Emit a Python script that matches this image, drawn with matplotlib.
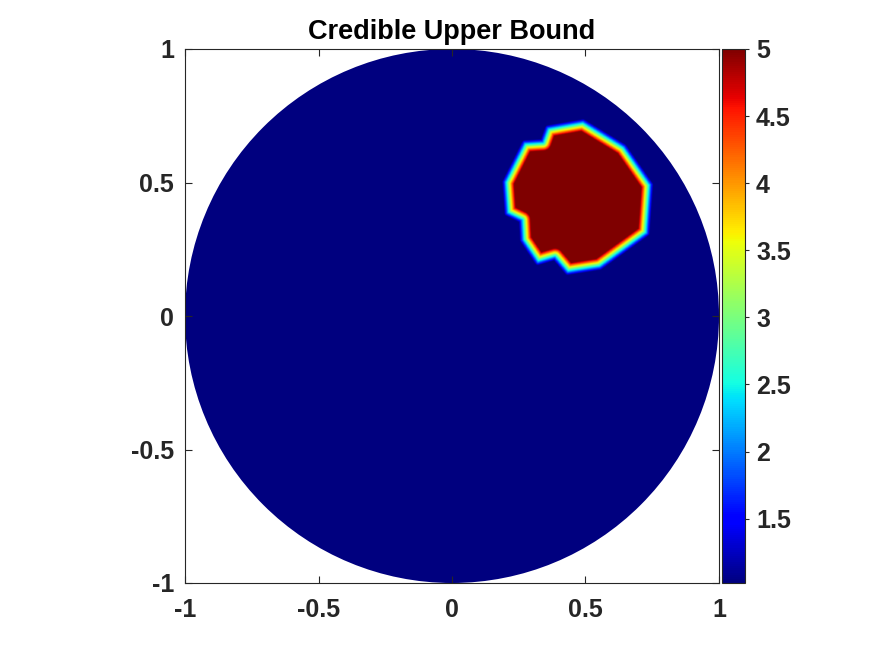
import numpy as np
import matplotlib
matplotlib.use("Agg")
import matplotlib.pyplot as plt
from matplotlib.path import Path
from matplotlib.patches import Circle

# ---- values ----
TITLE = "Credible Upper Bound"
V_LOW = 1.02      # background level (bottom of colour scale)
V_HIGH = 5.0      # level inside the inclusion
# inclusion outline (data coords), traced clockwise from the top vertex
BLOB_X = [0.491, 0.360, 0.341, 0.273, 0.200, 0.208, 0.262, 0.266, 0.322,
          0.386, 0.434, 0.554, 0.730, 0.743, 0.644]
BLOB_Y = [0.727, 0.704, 0.652, 0.648, 0.502, 0.386, 0.360, 0.285, 0.202,
          0.221, 0.165, 0.184, 0.311, 0.492, 0.634]
XTICKS = [-1, -0.5, 0, 0.5, 1]
YTICKS = [-1, -0.5, 0, 0.5, 1]
CBAR_TICKS = [1.5, 2, 2.5, 3, 3.5, 4, 4.5, 5]

plt.rcParams["font.family"] = ["Liberation Sans", "DejaVu Sans"]
plt.rcParams["font.weight"] = "bold"

N = 900
xs = np.linspace(-1, 1, N)
X, Y = np.meshgrid(xs, xs)
pts = np.column_stack([X.ravel(), Y.ravel()])

# signed distance to the outline (positive inside)
vx = np.array(BLOB_X)
vy = np.array(BLOB_Y)
bx_, by_ = np.roll(vx, -1), np.roll(vy, -1)
dist = np.full(pts.shape[0], np.inf)
for x0, y0, x1, y1 in zip(vx, vy, bx_, by_):
    dx, dy = x1 - x0, y1 - y0
    t = ((pts[:, 0] - x0) * dx + (pts[:, 1] - y0) * dy) / (dx * dx + dy * dy)
    t = np.clip(t, 0, 1)
    d = np.hypot(pts[:, 0] - (x0 + t * dx), pts[:, 1] - (y0 + t * dy))
    dist = np.minimum(dist, d)
inside = Path(np.column_stack([vx, vy])).contains_points(pts)
sd = np.where(inside, dist, -dist)
frac = np.clip((sd + 0.012) / 0.045, 0, 1)
Z = (V_LOW + (V_HIGH - V_LOW) * frac).reshape(N, N)

fig = plt.figure(figsize=(8.75, 6.56), dpi=100)
ax = fig.add_axes([185 / 875, 73 / 656, 534 / 875, 534 / 656])
im = ax.imshow(Z, extent=[-1, 1, -1, 1], origin="lower", cmap="jet",
               vmin=V_LOW, vmax=V_HIGH, interpolation="bilinear")
im.set_clip_path(Circle((0, 0), 1, transform=ax.transData))
ax.set_xlim(-1, 1)
ax.set_ylim(-1, 1)
ax.set_xticks(XTICKS)
ax.set_yticks(YTICKS)
ax.set_xticklabels(["-1", "-0.5", "0", "0.5", "1"])
ax.set_yticklabels(["-1", "-0.5", "0", "0.5", "1"])
ax.tick_params(axis="x", pad=11)
ax.tick_params(axis="y", pad=8)
ax.tick_params(direction="in", length=5, width=0.8, top=True, right=True,
               labelsize=18, colors="#262626")
for s in ax.spines.values():
    s.set_color("#262626")
    s.set_linewidth(0.8)
ax.set_title(TITLE, fontsize=19.5, fontweight="bold", color="black", pad=7)

cax = fig.add_axes([722 / 875, 73 / 656, 23 / 875, 534 / 656])
cb = fig.colorbar(im, cax=cax, ticks=CBAR_TICKS)
cb.ax.set_yticklabels(["1.5", "2", "2.5", "3", "3.5", "4", "4.5", "5"])
cb.ax.tick_params(direction="out", length=3, width=0.8, labelsize=18,
                  colors="#262626", pad=5)
cb.outline.set_edgecolor("#262626")
cb.outline.set_linewidth(0.8)

fig.savefig("out.png", dpi=100)
